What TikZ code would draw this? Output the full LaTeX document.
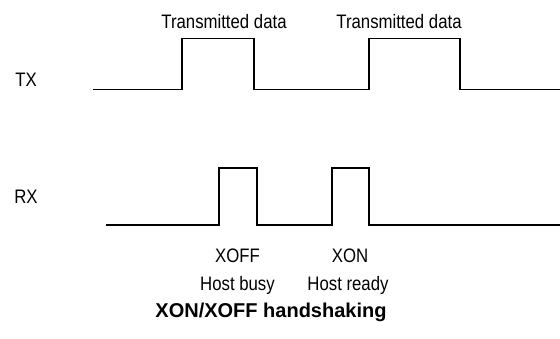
\documentclass[tikz,border=0pt]{standalone}
\usepackage{fontspec}
\setmainfont[FakeStretch=0.86]{Liberation Sans}
\newfontfamily\titlefont{Liberation Sans}
\tikzset{
  lbl/.style = {inner sep=0pt, anchor=base, font=\fontsize{19.5}{23}\selectfont},
  ttl/.style = {inner sep=0pt, anchor=base, font=\titlefont\fontsize{20}{24}\selectfont\bfseries},
  wave/.style = {line width=1.3pt, black, line join=miter}
}
\begin{document}
\begin{tikzpicture}[x=1pt, y=-1pt]
\useasboundingbox (0,0) rectangle (560,338);

% signal names
\node[lbl] (tx) at (26,86) {TX};
\node[lbl] (rx) at (26,203) {RX};

% TX line
\draw[wave] (93,89.5) -- (182,89.5) -- (182,38.5) -- (254,38.5) -- (254,89.5)
  -- (369,89.5) -- (369,38.5) -- (460,38.5) -- (460,89.5) -- (560,89.5);

% RX line
\draw[wave] (106,225) -- (219,225) -- (219,168) -- (257,168) -- (257,225)
  -- (332,225) -- (332,168) -- (369,168) -- (369,225) -- (560,225);

% annotations
\node[lbl] (d1) at (224,28.3) {Transmitted data};
\node[lbl] (d2) at (399,28.3) {Transmitted data};
\node[lbl] (xoff) at (237.5,262.7) {XOFF};
\node[lbl] (xon) at (350,262.7) {XON};
\node[lbl] (busy) at (237.5,290) {Host busy};
\node[lbl] (ready) at (348,290) {Host ready};

\node[ttl] (title) at (271,317) {XON/XOFF handshaking};

\end{tikzpicture}
\end{document}
